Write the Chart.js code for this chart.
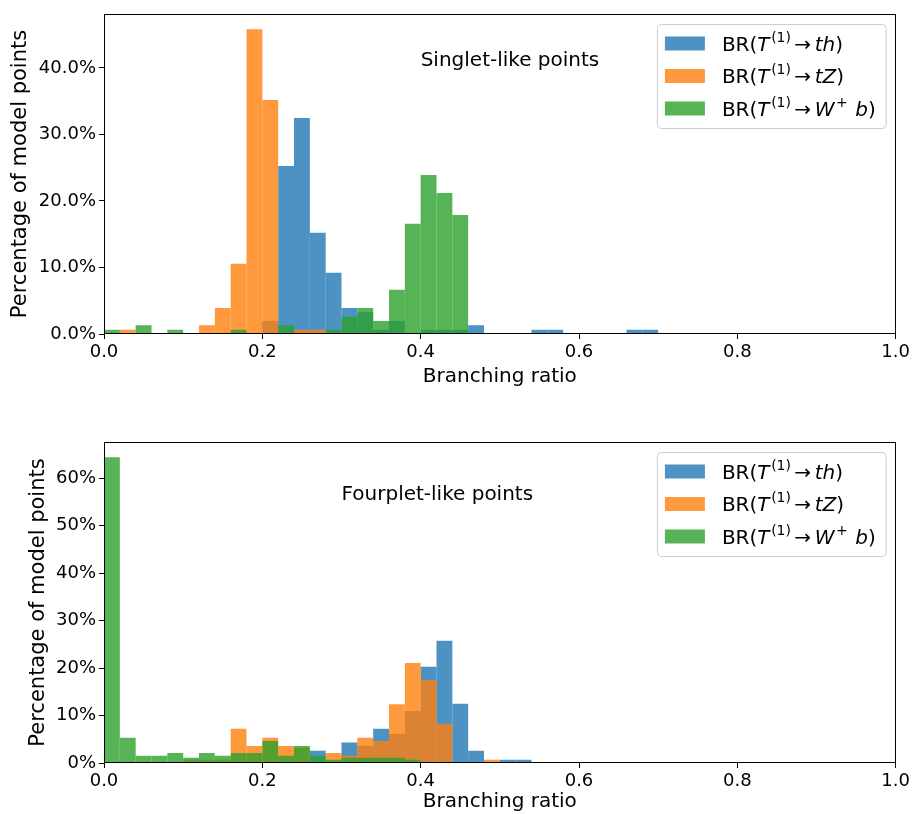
<!DOCTYPE html>
<html>
<head>
<meta charset="utf-8">
<script src="https://cdn.jsdelivr.net/npm/chart.js@4.4.0/dist/chart.umd.min.js"></script>
<style>
  body { margin: 0; background: #fff; }
  canvas { display: block; }
</style>
</head>
<body>
<canvas id="singlet" width="913" height="407"></canvas>
<canvas id="fourplet" width="913" height="407"></canvas>
<script>
// 50 bins of width 0.02 over [0, 1]
const binWidth = 0.02;
const binCenters = Array.from({ length: 50 }, (_, i) => +(binWidth * i + binWidth / 2).toFixed(3));

const xTicks = [0, 0.2, 0.4, 0.6, 0.8, 1.0];
const yTicksSinglet = [0, 10, 20, 30, 40];
const yTicksFourplet = [0, 10, 20, 30, 40, 50, 60];

// percentage of model points per bin -- singlet-like points
const singletTh = [
  0, 0, 0, 0, 0, 0, 0, 0, 0, 0,
  1.95, 25.25, 32.45, 15.2, 9.2, 3.9, 3.25, 0.65, 1.95, 0,
  0.65, 0.65, 0.65, 1.3, 0, 0, 0, 0.65, 0.65, 0,
  0, 0, 0, 0.65, 0.65, 0, 0, 0, 0, 0,
  0, 0, 0, 0, 0, 0, 0, 0, 0, 0
];
const singletTZ = [
  0, 0.65, 0, 0, 0, 0, 1.3, 3.9, 10.55, 45.8,
  35.15, 0, 0.65, 0.65, 0, 0, 0, 0, 0, 0,
  0, 0, 0, 0, 0, 0, 0, 0, 0, 0,
  0, 0, 0, 0, 0, 0, 0, 0, 0, 0,
  0, 0, 0, 0, 0, 0, 0, 0, 0, 0
];
const singletWb = [
  0.65, 0, 1.3, 0, 0.65, 0, 0, 0, 0.65, 0,
  0, 1.3, 0, 0, 0.65, 2.6, 3.9, 1.95, 6.65, 16.55,
  23.9, 21.2, 17.9, 0, 0, 0, 0, 0, 0, 0,
  0, 0, 0, 0, 0, 0, 0, 0, 0, 0,
  0, 0, 0, 0, 0, 0, 0, 0, 0, 0
];

// percentage of model points per bin -- fourplet-like points
const fourpletTh = [
  0, 0, 0, 0, 0, 0, 0, 0, 0, 0,
  0, 0, 0, 2.6, 0, 4.3, 3.65, 7.2, 6.1, 10.95,
  20.3, 25.75, 12.5, 2.6, 0, 0.7, 0.7, 0, 0, 0,
  0, 0, 0, 0, 0, 0, 0, 0, 0, 0,
  0, 0, 0, 0, 0, 0, 0, 0, 0, 0
];
const fourpletTZ = [
  0, 0, 0, 0, 0, 0.7, 0.7, 0.7, 7.2, 3.6,
  5.3, 3.6, 3.2, 0, 2.1, 1.55, 5.3, 4.65, 12.4, 21.05,
  17.5, 8.25, 0, 0, 0.7, 0, 0, 0, 0, 0,
  0, 0, 0, 0, 0, 0, 0, 0, 0, 0,
  0, 0, 0, 0, 0, 0, 0, 0, 0, 0
];
const fourpletWb = [
  64.4, 5.3, 1.55, 1.55, 2.1, 1.1, 2.1, 1.55, 2.1, 2.1,
  4.65, 1.55, 3.6, 1.55, 0.7, 1.1, 1.1, 1.1, 1.1, 0.7,
  0, 0, 0, 0, 0, 0, 0, 0, 0, 0,
  0, 0, 0, 0, 0, 0, 0, 0, 0, 0,
  0, 0, 0, 0, 0, 0, 0, 0, 0, 0
];

// legend labels as [text, style] runs: n = upright, i = italic, sup = superscript, rel = spaced relation
const seriesLabels = [
  [["BR(", "n"], ["T", "i"], ["(1)", "sup"], ["→", "rel"], ["th", "i"], [")", "n"]],
  [["BR(", "n"], ["T", "i"], ["(1)", "sup"], ["→", "rel"], ["tZ", "i"], [")", "n"]],
  [["BR(", "n"], ["T", "i"], ["(1)", "sup"], ["→", "rel"], ["W", "i"], ["+", "sup"], [" ", "n"], ["b", "i"], [")", "n"]]
];
const seriesColors = ["rgba(31,119,180,0.8)", "rgba(255,127,14,0.8)", "rgba(44,160,44,0.8)"];

Chart.defaults.font.family = '"DejaVu Sans"';
Chart.defaults.color = "#000";

const FONT = '"DejaVu Sans"';

function runFont(style, size) {
  if (style === "i") return "italic " + size + "px " + FONT;
  if (style === "sup") return Math.round(size * 0.7) + "px " + FONT;
  return size + "px " + FONT;
}

// horizontal space added around a run
function runPad(style, size) {
  if (style === "rel") return [size * 0.12, size * 0.18];
  if (style === "sup") return [size * 0.08, size * 0.05];
  return [0, 0];
}

function runWidth(ctx, parts, size) {
  let w = 0;
  for (const [text, style] of parts) {
    ctx.font = runFont(style, size);
    const [a, b] = runPad(style, size);
    w += a + ctx.measureText(text).width + b;
  }
  return w;
}

function drawRuns(ctx, parts, x, y, size) {
  for (const [text, style] of parts) {
    ctx.font = runFont(style, size);
    const [a, b] = runPad(style, size);
    const dy = style === "sup" ? -size * 0.45 : 0;
    x += a;
    ctx.fillText(text, x, y + dy);
    x += ctx.measureText(text).width + b;
  }
}

// black frame round the plot area (all four spines)
const framePlugin = {
  id: "frame",
  afterDatasetsDraw(chart) {
    const { ctx, chartArea: a } = chart;
    ctx.save();
    ctx.strokeStyle = "#000";
    ctx.lineWidth = 1;
    ctx.strokeRect(Math.round(a.left) + 0.5, Math.round(a.top) + 0.5,
      Math.round(a.right - a.left) - 1, Math.round(a.bottom - a.top) - 1);
    ctx.restore();
  }
};

// legend box in the upper right corner of the plot area
const boxLegend = {
  id: "boxLegend",
  afterDraw(chart) {
    const { ctx, chartArea: a } = chart;
    const size = 20;
    let maxW = 0;
    seriesLabels.forEach(p => { maxW = Math.max(maxW, runWidth(ctx, p, size)); });
    const w = 65 + maxW + 10;
    const h = 104;
    const x0 = a.right - 10 - w;
    const y0 = a.top + 10;
    ctx.save();
    ctx.beginPath();
    ctx.roundRect(x0 + 0.5, y0 + 0.5, w, h, 4);
    ctx.fillStyle = "rgba(255,255,255,0.8)";
    ctx.fill();
    ctx.strokeStyle = "#cccccc";
    ctx.lineWidth = 1;
    ctx.stroke();
    ctx.textBaseline = "alphabetic";
    ctx.textAlign = "left";
    seriesLabels.forEach((parts, k) => {
      const cy = y0 + 19.5 + k * 32.5;
      ctx.fillStyle = seriesColors[k];
      ctx.fillRect(x0 + 8, cy - 7, 40, 14);
      ctx.fillStyle = "#000";
      drawRuns(ctx, parts, x0 + 65, cy + 7, size);
    });
    ctx.restore();
  }
};

// free text placed in data coordinates
const notePlugin = {
  id: "note",
  afterDraw(chart, args, opts) {
    const { ctx, scales } = chart;
    ctx.save();
    ctx.font = "20px " + FONT;
    ctx.fillStyle = "#000";
    ctx.textAlign = "left";
    ctx.textBaseline = "middle";
    ctx.fillText(opts.text, scales.x.getPixelForValue(opts.x), scales.y.getPixelForValue(opts.y));
    ctx.restore();
  }
};

function histChart(id, series, yTicks, yFmt, cfg) {
  const yMax = Math.max(...series.flat()) * 1.05;
  return new Chart(document.getElementById(id), {
    type: "bar",
    data: {
      datasets: series.map((vals, k) => ({
        label: seriesLabels[k].map(r => r[0]).join(""),
        data: binCenters.map((c, i) => ({ x: c, y: vals[i] })),
        backgroundColor: seriesColors[k],
        borderWidth: 0,
        inflateAmount: 0,
        grouped: false,
        barPercentage: 1,
        categoryPercentage: 1,
        order: series.length - k
      }))
    },
    options: {
      responsive: false,
      animation: false,
      events: [],
      layout: { padding: cfg.padding },
      plugins: {
        legend: { display: false },
        tooltip: { enabled: false },
        note: cfg.note
      },
      scales: {
        x: {
          type: "linear",
          min: 0,
          max: 1,
          offset: false,
          afterBuildTicks: s => { s.ticks = xTicks.map(v => ({ value: v })); },
          afterFit: s => { s.height = cfg.xHeight; },
          ticks: { callback: v => Number(v).toFixed(1), font: { size: 18 }, padding: 3, maxRotation: 0, autoSkip: false },
          grid: { drawOnChartArea: false, offset: false, tickLength: 5, color: "#000" },
          border: { display: false },
          title: { display: true, text: "Branching ratio", font: { size: 20 }, padding: { top: 0, bottom: cfg.xTitlePad } }
        },
        y: {
          min: 0,
          max: yMax,
          afterBuildTicks: s => { s.ticks = yTicks.map(v => ({ value: v })); },
          afterFit: s => { s.width = 104 - (cfg.padding.left || 0); },
          ticks: { callback: yFmt, font: { size: 18 }, padding: 3 },
          grid: { drawOnChartArea: false, tickLength: 5, color: "#000" },
          border: { display: false },
          title: { display: true, text: "Percentage of model points", font: { size: 21 }, padding: { top: cfg.yTitlePad, bottom: 0 } }
        }
      }
    },
    plugins: [framePlugin, boxLegend, notePlugin]
  });
}

histChart("singlet", [singletTh, singletTZ, singletWb], yTicksSinglet, v => v.toFixed(1) + "%", {
  padding: { top: 14, right: 17, left: 0, bottom: 0 },
  xHeight: 73,
  xTitlePad: 18,
  yTitlePad: 8,
  note: { text: "Singlet-like points", x: 0.40, y: 41 }
});

histChart("fourplet", [fourpletTh, fourpletTZ, fourpletWb], yTicksFourplet, v => v + "%", {
  padding: { top: 35, right: 17, left: 0, bottom: 0 },
  xHeight: 51,
  xTitlePad: 0,
  yTitlePad: 26,
  note: { text: "Fourplet-like points", x: 0.30, y: 56.5 }
});
</script>
</body>
</html>
